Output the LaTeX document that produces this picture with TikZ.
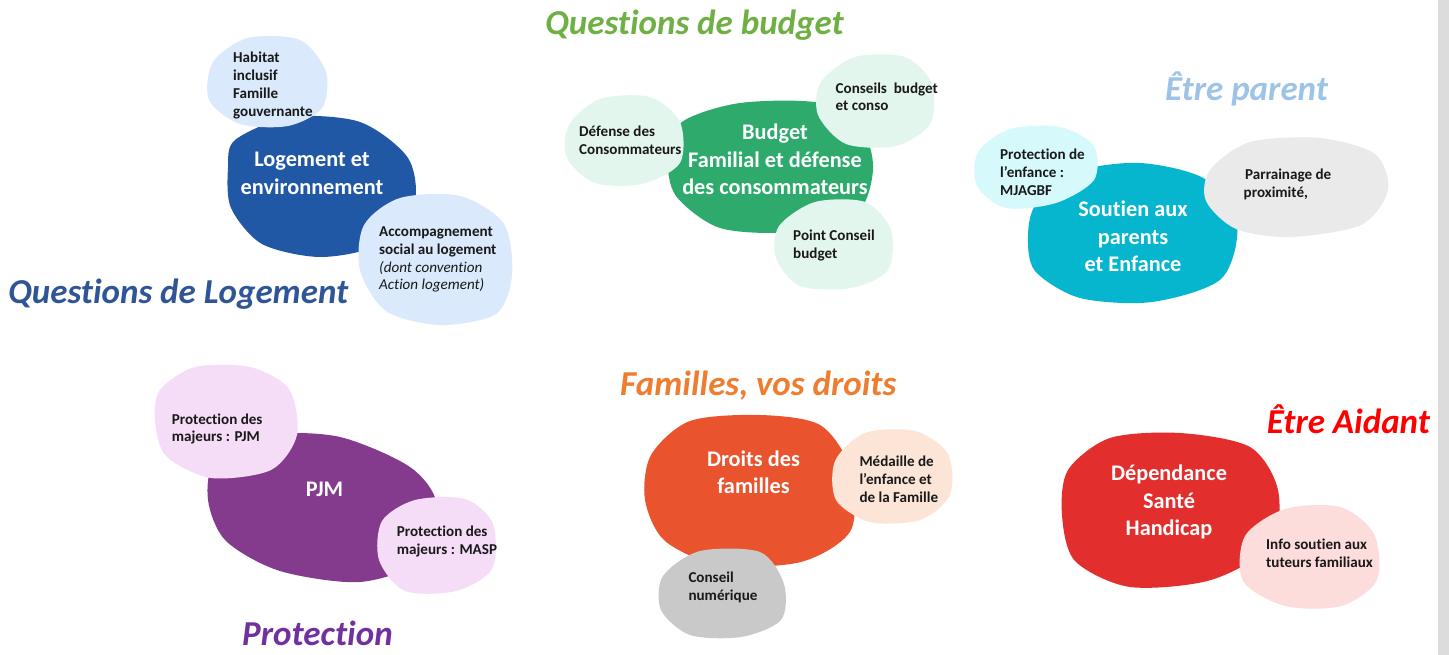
\documentclass[tikz,border=0pt]{standalone}
\usepackage{fontspec}
\setmainfont{Carlito}[Ligatures={TeX,NoCommon}]
\definecolor{dblue}{HTML}{2158A6}
\definecolor{lblue}{HTML}{DAE9FB}
\definecolor{tblue}{HTML}{2F5597}
\definecolor{dgreen}{HTML}{2EAB6C}
\definecolor{mint}{HTML}{E3F6ED}
\definecolor{tgreen}{HTML}{6FB044}
\definecolor{teal}{HTML}{06B5CE}
\definecolor{lcyan}{HTML}{D6FAFC}
\definecolor{lgray}{HTML}{EAEAEA}
\definecolor{tpar}{HTML}{9DC3E6}
\definecolor{purp}{HTML}{853B8D}
\definecolor{lpink}{HTML}{F5DDF7}
\definecolor{tpurp}{HTML}{7030A0}
\definecolor{orng}{HTML}{E9532D}
\definecolor{peach}{HTML}{FCE4D7}
\definecolor{mgray}{HTML}{C9C9C9}
\definecolor{torng}{HTML}{EE7D30}
\definecolor{dred}{HTML}{E32E2E}
\definecolor{lrose}{HTML}{FDDCDC}
\definecolor{tred}{HTML}{FF0000}
\definecolor{sidebar}{HTML}{DCDCDC}
\begin{document}
\begin{tikzpicture}[x=1pt,y=-1pt,
  small/.style={font=\bfseries\fontsize{15.1}{17.7}\selectfont, text=black!90, inner sep=0pt,
    anchor=base west, align=flush left, text width=160pt},
  big/.style={font=\bfseries\fontsize{22.3}{27.4}\selectfont, text=white, inner sep=0pt,
    anchor=base, align=flush center, text width=240pt},
  title/.style={font=\bfseries\itshape\fontsize{35}{40}\selectfont, inner sep=0pt,
    anchor=base west}]
\useasboundingbox (0,0) rectangle (1449,655);
\fill[white] (0,0) rectangle (1449,655);
\fill[sidebar] (1438,0) rectangle (1449,655);

% ---------- Logement ----------
\fill[dblue] plot[smooth cycle] coordinates {(235,140) (290,117) (360,122) (408,158) (414,205) (378,245) (320,257) (262,244) (231,208) (228,168)};
\fill[lblue] plot[smooth cycle] coordinates {(213,62) (248,38) (300,40) (326,72) (322,108) (288,126) (240,124) (209,100)};
\fill[lblue] plot[smooth cycle] coordinates {(364,225) (400,198) (460,196) (504,224) (512,275) (496,314) (440,325) (386,311) (360,270)};
\node[small] (habitat) at (233,63) {Habitat\\inclusif\\Famille\\gouvernante};
\node[big] (logement) at (312,166.7) {Logement et\\environnement};
\node[small] (accomp) at (379,236.7) {Accompagnement\\social au logement\\\mdseries\itshape (dont convention\\\mdseries\itshape Action logement)};
\node[title, text=tblue] (tlog) at (8,303) {Questions de Logement};

% ---------- Budget ----------
\fill[dgreen] plot[smooth cycle] coordinates {(682,122) (740,103) (820,103) (862,130) (873,170) (856,214) (790,232) (720,228) (676,196) (668,158)};
\fill[mint] plot[smooth cycle] coordinates {(569,125) (600,99) (650,97) (680,122) (680,163) (642,184) (595,183) (567,158)};
\fill[mint] plot[smooth cycle] coordinates {(821,82) (855,57) (905,57) (932,84) (930,124) (896,146) (846,144) (818,115)};
\fill[mint] plot[smooth cycle] coordinates {(779,226) (815,202) (865,202) (891,230) (888,270) (851,288) (800,286) (776,258)};
\node[title, text=tgreen] (tbud) at (545,35) {Questions de budget};
\node[small] (defense) at (579,136.7) {Défense des\\Consommateurs};
\node[big] (budget) at (775,140) {Budget\\Familial et défense\\des consommateurs};
\node[small] (conseils) at (835.5,93.3) {Conseils\ \ budget\\et conso};
\node[small] (point) at (793,240.7) {Point Conseil\\budget};

% ---------- Etre parent ----------
\fill[teal] plot[smooth cycle] coordinates {(1036,204) (1075,172) (1140,163) (1205,179) (1237,224) (1221,279) (1152,302) (1080,298) (1035,271) (1028,236)};
\fill[lcyan] plot[smooth cycle] coordinates {(978,152) (1010,129) (1060,127) (1094,146) (1094,180) (1056,203) (1006,208) (977,186)};
\fill[lgray] plot[smooth cycle] coordinates {(1210,170) (1250,142) (1320,138) (1375,154) (1388,190) (1361,225) (1290,237) (1236,229) (1206,201)};
\node[title, text=tpar] (tpar) at (1165,100.7) {Être parent};
\node[small] (enfance) at (1000,160) {Protection de\\l’enfance :\\MJAGBF};
\node[big] (soutien) at (1133,216.7) {Soutien aux\\parents\\et Enfance};
\node[small] (parrain) at (1243.5,180) {\hspace{1.5pt}Parrainage de\\proximité,};

% ---------- Protection ----------
\fill[purp] plot[smooth cycle] coordinates {(216,460) (270,435) (340,437) (410,467) (437,505) (421,560) (360,582) (280,571) (226,541) (208,500)};
\fill[lpink] plot[smooth cycle] coordinates {(160,390) (195,367) (250,367) (289,389) (297,435) (271,470) (211,478) (166,456) (155,421)};
\fill[lpink] plot[smooth cycle] coordinates {(382,521) (415,500) (465,499) (493,524) (492,569) (456,591) (405,591) (379,560)};
\node[small] (pjmlab) at (171.7,424) {Protection des\\majeurs : PJM};
\node[big] (pjm) at (324.5,496.7) {PJM};
\node[small] (masp) at (396.7,536.7) {Protection des\\majeurs : MASP};
\node[title, text=tpurp] (tprot) at (242,645) {Protection};

% ---------- Familles ----------
\fill[orng] plot[smooth cycle] coordinates {(651,455) (690,421) (760,415) (820,425) (850,468) (851,530) (801,562) (720,565) (665,541) (645,500)};
\fill[peach] plot[smooth cycle] coordinates {(835,461) (865,433) (915,431) (948,454) (950,495) (920,520) (870,522) (836,500)};
\fill[mgray] plot[smooth cycle] coordinates {(663,576) (700,551) (760,552) (784,584) (781,620) (741,637) (690,635) (661,610)};
\node[title, text=torng] (tfam) at (620,395) {Familles, vos droits};
\node[big] (droits) at (753.5,466) {Droits des\\familles};
\node[small] (medaille) at (859.3,466.7) {Médaille de\\l’enfance et\\de la Famille};
\node[small] (numerique) at (688.3,582.7) {Conseil\\numérique};

% ---------- Aidant ----------
\fill[dred] plot[smooth cycle] coordinates {(1068,470) (1110,438) (1180,433) (1250,447) (1278,490) (1271,545) (1211,580) (1130,587) (1075,561) (1062,515)};
\fill[lrose] plot[smooth cycle] coordinates {(1245,536) (1285,509) (1340,507) (1374,534) (1377,580) (1341,606) (1285,606) (1243,581)};
\node[title, text=tred] (taid) at (1266.7,433.3) {Être Aidant};
\node[big] (depend) at (1169,480.7) {Dépendance\\Santé\\Handicap};
\node[small] (info) at (1266,549.3) {Info soutien aux\\tuteurs familiaux};
\end{tikzpicture}
\end{document}
